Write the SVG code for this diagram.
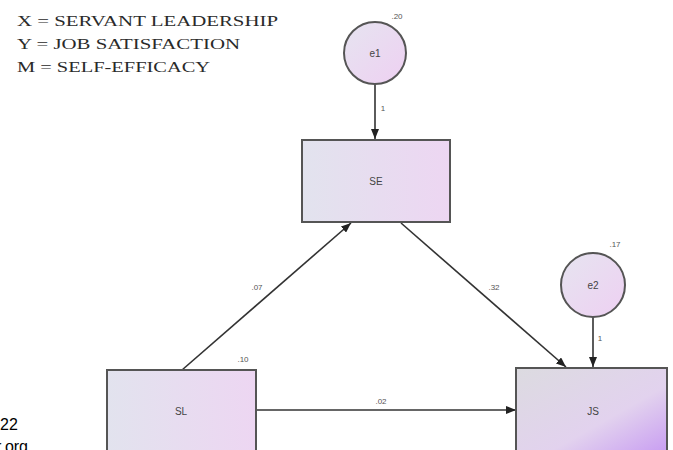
<svg xmlns="http://www.w3.org/2000/svg" width="673" height="450" viewBox="0 0 673 450">
<style>
.leg{font-family:"Liberation Serif","DejaVu Serif",serif;font-size:15px;fill:#2a2a2a}
.lbl{font-family:"Liberation Sans",Arial,sans-serif;font-size:10px;fill:#444;text-anchor:middle}
.num{font-family:"Liberation Sans",Arial,sans-serif;font-size:8px;fill:#555;text-anchor:middle}
.box{stroke:#555;stroke-width:2}
.edge{stroke:#333;stroke-width:1.6;fill:none;marker-end:url(#ah)}
.side{font-family:"Liberation Sans",Arial,sans-serif;font-size:16px;fill:#000}
</style>
<defs>
<linearGradient id="g1" x1="0" y1="0" x2="1" y2="0">
<stop offset="0" stop-color="#e2e3ee"/><stop offset="1" stop-color="#edd6f2"/>
</linearGradient>
<linearGradient id="g2" x1="0" y1="0" x2="1" y2="1">
<stop offset="0" stop-color="#dcdbe0"/><stop offset="0.6" stop-color="#e2d2ee"/><stop offset="1" stop-color="#c89cf2"/>
</linearGradient>
<linearGradient id="g3" x1="0" y1="0" x2="1" y2="1">
<stop offset="0" stop-color="#e6e4f0"/><stop offset="1" stop-color="#eed0f2"/>
</linearGradient>
<marker id="ah" markerWidth="10" markerHeight="8" refX="10" refY="4" orient="auto" markerUnits="userSpaceOnUse">
<path d="M0,0 L10,4 L0,8 Z" fill="#222"/>
</marker>
</defs>
<text class="leg" x="17" y="26" textLength="261" lengthAdjust="spacingAndGlyphs">X = SERVANT LEADERSHIP</text>
<text class="leg" x="17" y="49" textLength="223" lengthAdjust="spacingAndGlyphs">Y = JOB SATISFACTION</text>
<text class="leg" x="17" y="72" textLength="193" lengthAdjust="spacingAndGlyphs">M = SELF-EFFICACY</text>
<text class="side" x="0" y="430">22</text>
<text class="side" x="-4" y="452">r.org</text>
<g id="connectors">
<line class="edge" x1="375" y1="84" x2="375" y2="139"/>
<line class="edge" x1="593" y1="317" x2="593" y2="367"/>
<line class="edge" x1="182" y1="370" x2="351" y2="223"/>
<line class="edge" x1="401" y1="223" x2="566" y2="367"/>
<line class="edge" x1="256" y1="410" x2="516" y2="410"/>
<text class="num" x="383" y="111">1</text>
<text class="num" x="600" y="341">1</text>
<text class="num" x="257" y="290">.07</text>
<text class="num" x="494" y="290">.32</text>
<text class="num" x="381" y="404">.02</text>
</g>
<g id="e1">
<circle cx="375" cy="53" r="31" fill="url(#g3)" class="box"/>
<text class="lbl" x="375" y="57">e1</text>
<text class="num" x="397" y="19">.20</text>
</g>
<g id="SE">
<rect x="302" y="140" width="148" height="82" fill="url(#g1)" class="box"/>
<text class="lbl" x="376" y="185">SE</text>
</g>
<g id="e2">
<circle cx="593" cy="285" r="32" fill="url(#g3)" class="box"/>
<text class="lbl" x="593" y="289">e2</text>
<text class="num" x="615" y="247">.17</text>
</g>
<g id="SL">
<rect x="107" y="370" width="149" height="84" fill="url(#g1)" class="box"/>
<text class="lbl" x="181" y="415">SL</text>
<text class="num" x="243" y="362">.10</text>
</g>
<g id="JS">
<rect x="516" y="368" width="151" height="86" fill="url(#g2)" class="box"/>
<text class="lbl" x="593" y="415">JS</text>
</g>
</svg>
